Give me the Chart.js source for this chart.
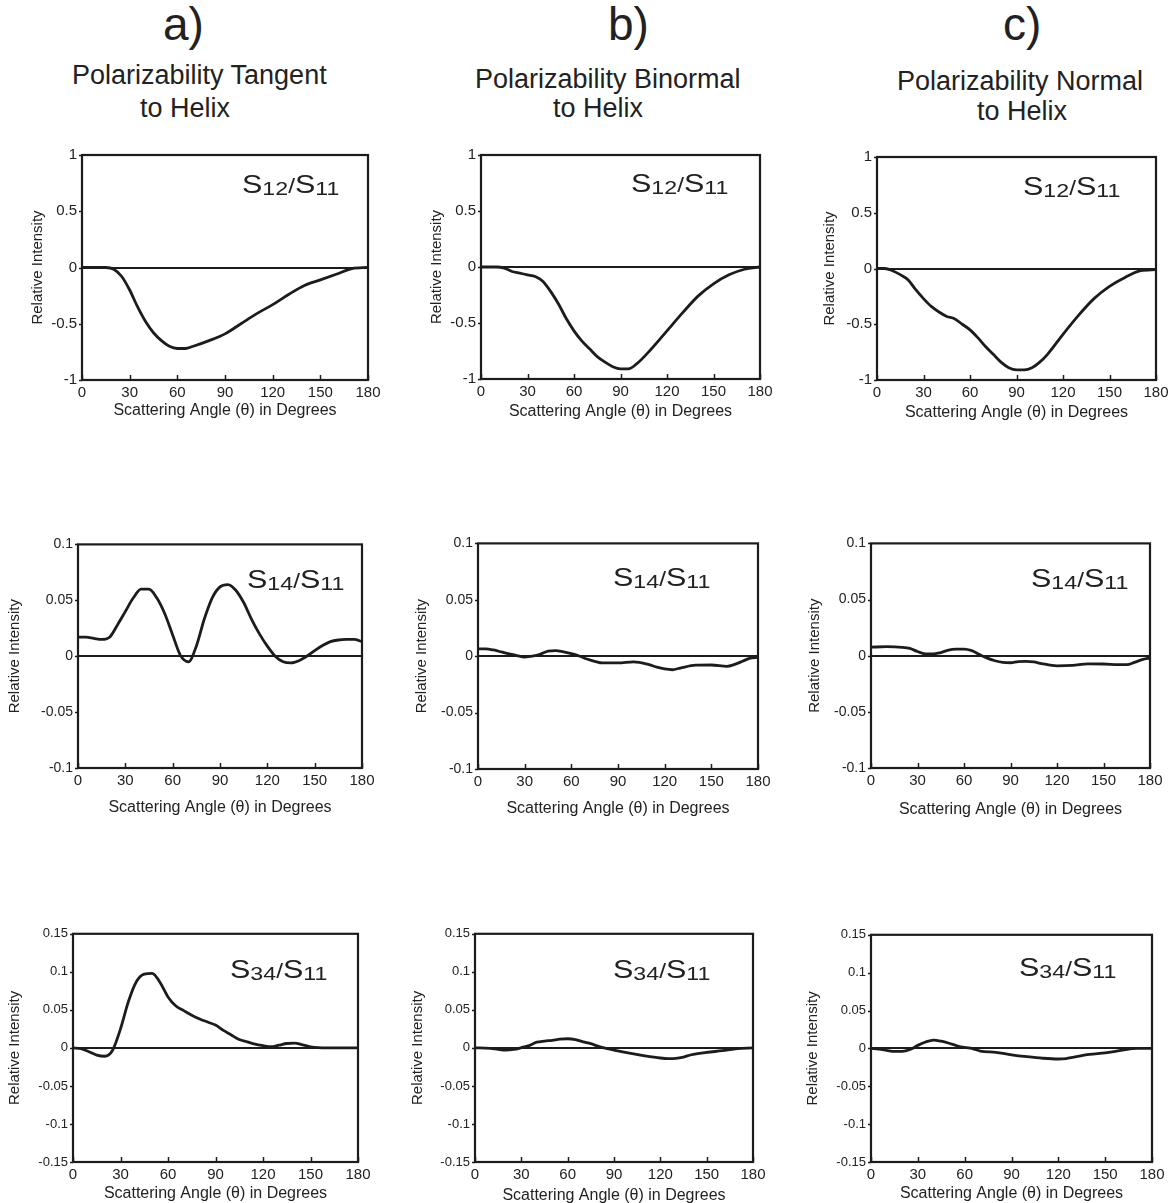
<!DOCTYPE html>
<html><head><meta charset="utf-8">
<script src="https://cdn.jsdelivr.net/npm/chart.js@4.4.1/dist/chart.umd.min.js"></script>
<style>
html,body{margin:0;padding:0;background:#fff;}
body{width:1171px;height:1203px;position:relative;overflow:hidden;font-family:"Liberation Sans",Arial,sans-serif;color:#222;}
.h{position:absolute;white-space:nowrap;line-height:1;}
canvas{position:absolute;}
</style></head><body>
<div class="h" style="left:163px;top:1px;font-size:46px">a)</div>
<div class="h" style="left:608px;top:1px;font-size:46px">b)</div>
<div class="h" style="left:1003px;top:1px;font-size:46px">c)</div>
<div class="h" style="left:72px;top:62px;font-size:27px">Polarizability Tangent</div>
<div class="h" style="left:140px;top:95px;font-size:27px">to Helix</div>
<div class="h" style="left:475px;top:66px;font-size:27px">Polarizability Binormal</div>
<div class="h" style="left:553px;top:95px;font-size:27px">to Helix</div>
<div class="h" style="left:897px;top:68px;font-size:27px">Polarizability Normal</div>
<div class="h" style="left:977px;top:98px;font-size:27px">to Helix</div>
<script>
// ---------- data ----------
const xTicks = [0, 30, 60, 90, 120, 150, 180];
const yTicksS12 = [-1, -0.5, 0, 0.5, 1];
const yTicksS14 = [-0.1, -0.05, 0, 0.05, 0.1];
const yTicksS34 = [-0.15, -0.1, -0.05, 0, 0.05, 0.1, 0.15];
const xTitle = 'Scattering Angle (θ) in Degrees';
const yTitle = 'Relative Intensity';

// a) tangent
const a1Angle = [0,10,15,20,25,30,35,40,45,50,55,60,65,70,80,90,100,110,120,130,140,150,160,170,180];
const a1S12 = [0,0,0,-0.015,-0.08,-0.20,-0.35,-0.48,-0.58,-0.65,-0.70,-0.72,-0.72,-0.70,-0.65,-0.59,-0.50,-0.41,-0.33,-0.24,-0.16,-0.11,-0.06,-0.01,0];
const a2Angle = [0,5,10,15,20,25,30,35,40,45,50,55,60,65,70,75,80,85,90,95,100,105,110,115,120,125,130,135,140,145,150,155,160,165,170,175,180];
const a2S14 = [0.017,0.017,0.016,0.015,0.017,0.028,0.040,0.052,0.060,0.060,0.052,0.038,0.019,0.0005,-0.005,0.009,0.033,0.052,0.062,0.064,0.059,0.048,0.033,0.020,0.009,0.000,-0.005,-0.006,-0.004,0.000,0.005,0.0095,0.013,0.0145,0.015,0.015,0.013];
const a3Angle = [0,5,10,15,20,25,30,35,40,45,50,55,60,65,70,75,80,85,90,95,100,105,110,115,120,125,130,135,140,145,150,155,160,170,180];
const a3S34 = [0,-0.001,-0.005,-0.0095,-0.011,-0.003,0.025,0.061,0.087,0.097,0.098,0.086,0.067,0.055,0.049,0.043,0.038,0.034,0.030,0.023,0.017,0.011,0.008,0.005,0.003,0.0015,0.0035,0.0058,0.0062,0.004,0.0015,0.0003,0,0,0];

// b) binormal
const b1Angle = [0,10,15,20,25,30,35,40,45,50,55,60,65,70,75,80,85,90,95,100,110,120,130,140,150,160,170,180];
const b1S12 = [0,0,-0.01,-0.04,-0.055,-0.07,-0.085,-0.13,-0.22,-0.33,-0.46,-0.57,-0.66,-0.73,-0.80,-0.85,-0.89,-0.91,-0.91,-0.87,-0.73,-0.57,-0.41,-0.26,-0.15,-0.07,-0.02,0];
const b2Angle = [0,5,10,15,20,25,30,35,40,45,50,55,60,65,70,75,80,90,100,110,115,120,125,130,140,150,160,165,170,175,180];
const b2S14 = [0.0065,0.0065,0.0055,0.0038,0.0021,0.0006,-0.0007,0,0.0017,0.0045,0.005,0.0038,0.0023,0.0002,-0.0025,-0.0045,-0.006,-0.006,-0.005,-0.0075,-0.0097,-0.0113,-0.012,-0.0105,-0.008,-0.0078,-0.009,-0.0073,-0.0045,-0.0017,-0.001];
const b3Angle = [0,10,15,20,25,30,35,40,45,50,55,60,65,70,75,80,85,90,100,110,120,125,130,135,140,150,160,170,180];
const b3S34 = [0,-0.0005,-0.002,-0.003,-0.002,0.0003,0.003,0.0075,0.009,0.010,0.0115,0.012,0.011,0.008,0.0055,0.002,-0.0007,-0.003,-0.007,-0.0105,-0.0133,-0.014,-0.0137,-0.012,-0.009,-0.006,-0.0037,-0.001,0];

// c) normal
const c1Angle = [0,5,10,15,20,25,30,35,40,45,50,55,60,65,70,75,80,85,90,95,100,105,110,120,130,140,150,160,170,180];
const c1S12 = [0,0,-0.02,-0.055,-0.10,-0.19,-0.27,-0.34,-0.39,-0.43,-0.45,-0.50,-0.55,-0.62,-0.70,-0.77,-0.84,-0.89,-0.91,-0.91,-0.89,-0.84,-0.77,-0.59,-0.42,-0.27,-0.16,-0.08,-0.02,-0.01];
const c2Angle = [0,10,20,25,30,35,40,45,50,55,60,65,70,75,80,85,90,95,100,105,110,120,130,140,150,160,165,170,175,180];
const c2S14 = [0.0076,0.008,0.0075,0.0065,0.0037,0.0017,0.0015,0.0028,0.0049,0.0058,0.0059,0.0045,0.001,-0.0022,-0.0045,-0.006,-0.0063,-0.0052,-0.005,-0.0055,-0.007,-0.009,-0.0086,-0.0073,-0.0074,-0.008,-0.008,-0.006,-0.0035,-0.002];
const c3Angle = [0,5,10,15,20,25,30,35,40,45,50,55,60,65,70,80,90,100,110,120,125,130,140,150,160,170,180];
const c3S34 = [0,-0.001,-0.0025,-0.004,-0.004,-0.0015,0.004,0.0085,0.011,0.0095,0.0068,0.0035,0.0012,-0.0003,-0.0035,-0.0052,-0.0085,-0.011,-0.013,-0.014,-0.0135,-0.0115,-0.008,-0.006,-0.0027,0,0];

// ---------- layout (positions only) ----------
const FF = '"Liberation Sans", Arial, sans-serif';
const INK = '#1c1c1c';
Chart.defaults.font.family = FF;
Chart.defaults.color = '#222';

const panels = [
  {ang:a1Angle, val:a1S12, yt:yTicksS12, sub:'12', L:82,  T:153, W:286, H:227, yd:44, xd:30, yf:15, lx:242, ly:193},
  {ang:b1Angle, val:b1S12, yt:yTicksS12, sub:'12', L:481, T:153, W:279, H:226, yd:44, xd:32, yf:15, lx:631, ly:192},
  {ang:c1Angle, val:c1S12, yt:yTicksS12, sub:'12', L:877, T:155, W:279, H:225, yd:47, xd:32, yf:15, lx:1023, ly:195},
  {ang:a2Angle, val:a2S14, yt:yTicksS14, sub:'14', L:78,  T:543, W:284, H:225, yd:63, xd:39, yf:14, lx:247, ly:588},
  {ang:b2Angle, val:b2S14, yt:yTicksS14, sub:'14', L:478, T:542, W:280, H:227, yd:56, xd:39, yf:14, lx:613, ly:586},
  {ang:c2Angle, val:c2S14, yt:yTicksS14, sub:'14', L:871, T:542, W:279, H:226, yd:56, xd:41, yf:14, lx:1031, ly:587},
  {ang:a3Angle, val:a3S34, yt:yTicksS34, sub:'34', L:73,  T:933, W:285, H:229, yd:58, xd:31, yf:13, lx:230, ly:978},
  {ang:b3Angle, val:b3S34, yt:yTicksS34, sub:'34', L:475, T:933, W:278, H:229, yd:57, xd:33, yf:13, lx:613, ly:978},
  {ang:c3Angle, val:c3S34, yt:yTicksS34, sub:'34', L:871, T:934, W:281, H:228, yd:58, xd:31, yf:13, lx:1019, ly:976}
];

const fmt = v => String(Math.round(v * 100) / 100);

panels.forEach(p => {
  const PT = 12, PR = 18;
  const Wy = p.yd + 9;
  const Hx = Math.round(p.xd + 9.6);
  const cw = Wy + p.W + PR;
  const ch = PT + p.H + Hx;
  const cl = p.L - Wy, ct = p.T - PT;
  const cv = document.createElement('canvas');
  cv.width = cw; cv.height = ch;
  cv.style.left = cl + 'px'; cv.style.top = ct + 'px';
  cv.style.width = cw + 'px'; cv.style.height = ch + 'px';
  document.body.appendChild(cv);

  const decor = {
    id: 'decor',
    afterDraw(chart) {
      const ctx = chart.ctx, a = chart.chartArea;
      const xs = chart.scales.x, ys = chart.scales.y;
      ctx.save();
      ctx.strokeStyle = INK;
      // tick marks
      ctx.lineWidth = 1.5;
      ctx.beginPath();
      xs.ticks.forEach(t => {
        const px = Math.round(xs.getPixelForValue(t.value)) + 0.5;
        ctx.moveTo(px, a.bottom); ctx.lineTo(px, a.bottom - 5);
      });
      ys.ticks.forEach(t => {
        const py = Math.round(ys.getPixelForValue(t.value)) + 0.5;
        ctx.moveTo(a.left, py); ctx.lineTo(a.left - 3, py);
      });
      ctx.stroke();
      // frame
      ctx.lineWidth = 2.2;
      ctx.strokeRect(a.left, a.top, a.right - a.left, a.bottom - a.top);
      // label S_xx / S_11
      ctx.translate(p.lx - cl, p.ly - ct);
      ctx.scale(1.22, 1);
      ctx.fillStyle = '#222';
      ctx.textBaseline = 'alphabetic';
      let x = 0;
      const part = (txt, size, dy) => {
        ctx.font = size + 'px ' + FF;
        ctx.fillText(txt, x, dy);
        x += ctx.measureText(txt).width;
      };
      part('S', 25, 0); part(p.sub, 19, 2); part('/', 20, 0); part('S', 25, 0); part('11', 19, 2);
      ctx.restore();
    }
  };

  new Chart(cv, {
    type: 'line',
    data: {
      datasets: [{
        data: p.ang.map((a, i) => ({x: a, y: p.val[i]})),
        borderColor: INK, borderWidth: 2.8, pointRadius: 0,
        cubicInterpolationMode: 'monotone', fill: false
      }]
    },
    options: {
      responsive: false, animation: false, events: [],
      layout: {padding: {top: PT, right: PR, left: 0, bottom: 0}},
      plugins: {legend: {display: false}, tooltip: {enabled: false}},
      scales: {
        x: {
          type: 'linear', min: 0, max: 180,
          afterBuildTicks: s => { s.ticks = xTicks.map(v => ({value: v})); },
          grid: {display: false, drawTicks: false},
          border: {display: false},
          ticks: {font: {size: 15}, color: '#222', padding: 4, maxRotation: 0, autoSkip: false},
          title: {display: true, text: xTitle, font: {size: 16}, color: '#222', padding: 0},
          afterFit: s => { s.height = Hx; }
        },
        y: {
          type: 'linear', min: p.yt[0], max: p.yt[p.yt.length - 1],
          afterBuildTicks: s => { s.ticks = p.yt.map(v => ({value: v})); },
          grid: {drawTicks: false, lineWidth: 2,
                 color: c => (c.tick && c.tick.value === 0) ? INK : 'rgba(0,0,0,0)'},
          border: {display: false},
          ticks: {font: {size: p.yf}, color: '#222', padding: 5, autoSkip: false, callback: v => fmt(v)},
          title: {display: true, text: yTitle, font: {size: 15}, color: '#222', padding: 0},
          afterFit: s => { s.width = Wy; }
        }
      }
    },
    plugins: [decor]
  });
});
</script>
</body></html>
